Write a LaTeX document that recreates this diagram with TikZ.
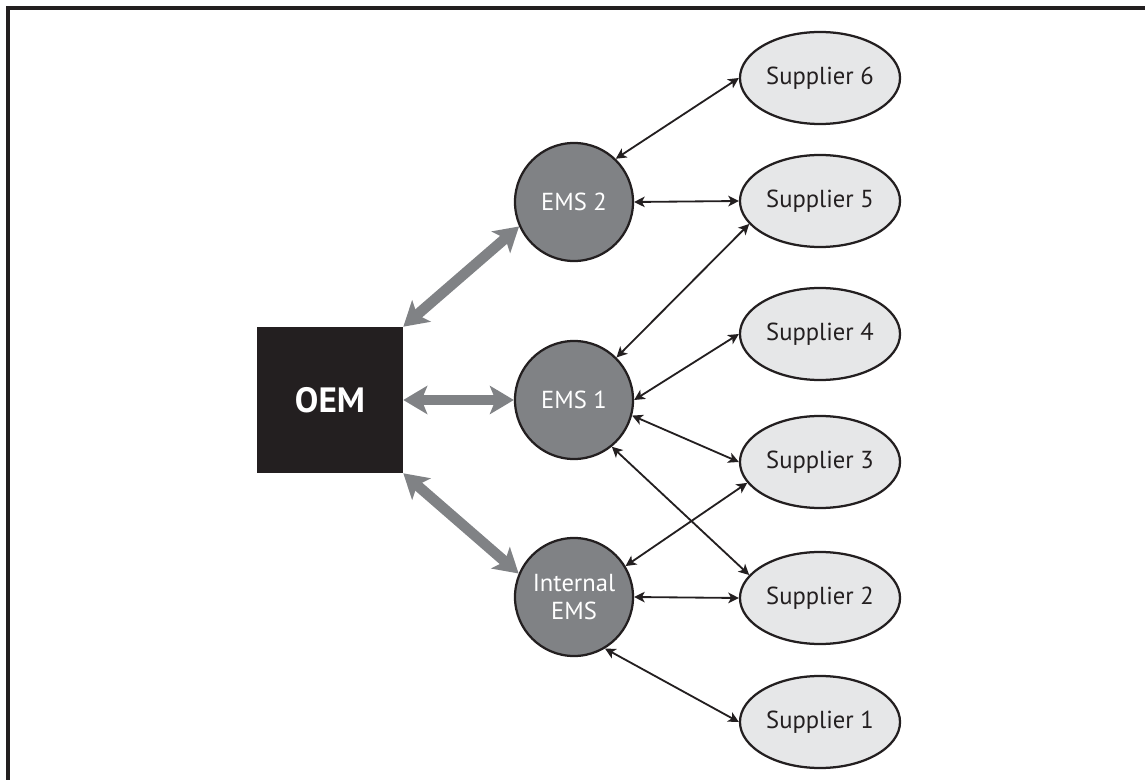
\documentclass[tikz,border=0pt]{standalone}
\usepackage{fontspec}
\setmainfont{PT Sans}
\usetikzlibrary{shapes.geometric,arrows.meta}
\definecolor{emsgray}{HTML}{808285}
\definecolor{supgray}{HTML}{E6E7E8}
\definecolor{oemblack}{HTML}{231F20}

\begin{document}
\begin{tikzpicture}[x=0.025cm, y=-0.025cm,
  ems/.style={circle, draw=oemblack, line width=1.6pt, fill=emsgray, text=white, minimum size=2.95cm, inner sep=0pt, align=center, font=\fontsize{17.5}{19.5}\selectfont},
  supplier/.style={ellipse, draw=oemblack, line width=1.6pt, fill=supgray, text=oemblack, minimum width=4cm, minimum height=2.3cm, inner sep=0pt, font=\fontsize{17.5}{19.5}\selectfont},
  oem/.style={rectangle, fill=oemblack, text=white, minimum size=3.65cm, font=\bfseries\fontsize{25}{28}\selectfont},
  link/.style={draw=oemblack, line width=1.3pt, {Stealth[length=7.5pt,width=7.5pt,inset=2pt]}-{Stealth[length=7.5pt,width=7.5pt,inset=2pt]}},
  flow/.style={draw=emsgray, line width=7.5pt, {Stealth[length=17pt,width=20pt,inset=4pt]}-{Stealth[length=17pt,width=20pt,inset=4pt]}}]

% An OEM feeding three EMS sites, each linked to its suppliers

\useasboundingbox (0,0) rectangle (1145,780);
\draw[oemblack, line width=2.3pt] (8,780) -- (8,8) -- (1145,8);

\node[oem] (OEM) at (330,400) {OEM};

\node[ems] (E2) at (574,202) {EMS 2};
\node[ems] (E1) at (574,400) {EMS 1};
\node[ems] (EI) at (574,597) {Internal\\EMS};

\node[supplier] (S6) at (820,78) {Supplier 6};
\node[supplier] (S5) at (820,201) {Supplier 5};
\node[supplier] (S4) at (820,334) {Supplier 4};
\node[supplier] (S3) at (820,462) {Supplier 3};
\node[supplier] (S2) at (820,598) {Supplier 2};
\node[supplier] (S1) at (820,722) {Supplier 1};

\draw[flow] (OEM.north east) -- (E2.204);
\draw[flow] (OEM.east) -- (E1.west);
\draw[flow] (OEM.south east) -- (EI.157);

\draw[link] (E2.46) -- (S6.west);
\draw[link] (E2.east) -- (S5.west);
\draw[link] (E1.45) -- (S5.198);
\draw[link] (E1.east) -- (S4.west);
\draw[link] (E1.-15) -- (S3.west);
\draw[link] (E1.-51) -- (S2.162);
\draw[link] (EI.31) -- (S3.196);
\draw[link] (EI.east) -- (S2.west);
\draw[link] (EI.-59) -- (S1.west);

\end{tikzpicture}
\end{document}
